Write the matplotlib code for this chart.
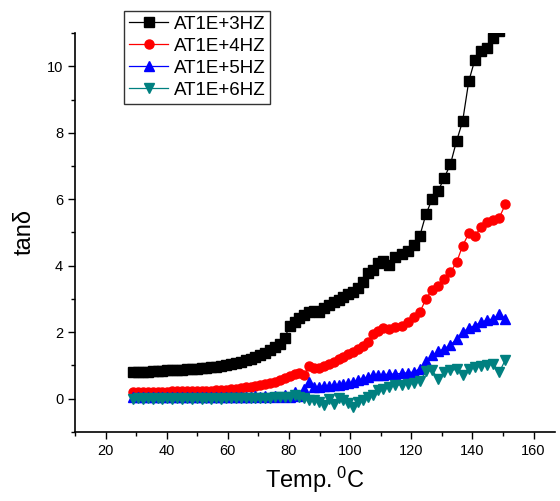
import numpy as np
import matplotlib
matplotlib.use("Agg")
import matplotlib.pyplot as plt
from matplotlib.ticker import MultipleLocator

plt.rcParams['font.family'] = ['Liberation Sans', 'DejaVu Sans']

# температура (общая сетка для всех частот)
temp = [29.0, 30.6, 32.2, 33.8, 35.4, 37.0, 38.6, 40.2, 41.8, 43.4,
        45.0, 46.6, 48.2, 49.8, 51.4, 53.0, 54.6, 56.2, 57.8, 59.4,
        61.0, 62.6, 64.2, 65.8, 67.4, 69.0, 70.6, 72.2, 73.8, 75.4,
        77.0, 78.6, 80.2, 81.8, 83.4, 85.0, 86.6, 88.2, 89.8, 91.4,
        93.0, 94.6, 96.2, 97.8, 99.4, 101.0, 102.6, 104.2, 105.8, 107.4,
        109.0, 110.8, 112.8, 114.8, 116.8, 118.8, 120.8, 122.8, 124.8, 126.8,
        128.8, 130.8, 132.8, 134.8, 136.8, 138.8, 140.8, 142.8, 144.8, 146.8,
        148.8, 150.8]

hz3 = [0.81, 0.79, 0.80, 0.81, 0.82, 0.83, 0.84, 0.85, 0.86, 0.86,
       0.87, 0.88, 0.89, 0.90, 0.91, 0.92, 0.94, 0.96, 0.98, 1.01,
       1.04, 1.07, 1.11, 1.15, 1.20, 1.25, 1.31, 1.38, 1.46, 1.55,
       1.65, 1.82, 2.20, 2.30, 2.42, 2.52, 2.62, 2.65, 2.60, 2.72,
       2.82, 2.90, 2.98, 3.07, 3.15, 3.22, 3.32, 3.50, 3.78, 3.88,
       4.08, 4.15, 4.02, 4.25, 4.35, 4.45, 4.62, 4.90, 5.55, 6.00,
       6.25, 6.65, 7.05, 7.75, 8.35, 9.55, 10.20, 10.45, 10.55, 10.85,
       11.05, 11.30]

hz4 = [0.20, 0.20, 0.20, 0.21, 0.21, 0.21, 0.21, 0.21, 0.22, 0.22,
       0.22, 0.22, 0.23, 0.23, 0.23, 0.24, 0.24, 0.25, 0.26, 0.27,
       0.28, 0.30, 0.32, 0.34, 0.36, 0.38, 0.40, 0.43, 0.46, 0.50,
       0.56, 0.62, 0.68, 0.73, 0.76, 0.72, 0.99, 0.91, 0.93, 0.98,
       1.04, 1.10, 1.18, 1.25, 1.33, 1.40, 1.48, 1.57, 1.70, 1.95,
       2.02, 2.12, 2.10, 2.15, 2.20, 2.30, 2.45, 2.60, 3.00, 3.28,
       3.40, 3.60, 3.80, 4.10, 4.60, 4.97, 4.90, 5.15, 5.30, 5.37,
       5.45, 5.85]

hz5 = [0.04, 0.06, 0.05, 0.06, 0.05, 0.06, 0.05, 0.06, 0.05, 0.06,
       0.05, 0.06, 0.05, 0.06, 0.05, 0.06, 0.05, 0.06, 0.05, 0.06,
       0.05, 0.06, 0.05, 0.06, 0.05, 0.07, 0.05, 0.07, 0.06, 0.08,
       0.06, 0.12, 0.05, 0.20, 0.08, 0.30, 0.50, 0.35, 0.36, 0.38,
       0.38, 0.40, 0.42, 0.44, 0.46, 0.50, 0.56, 0.60, 0.66, 0.70,
       0.72, 0.72, 0.74, 0.74, 0.76, 0.78, 0.80, 0.90, 1.12, 1.30,
       1.42, 1.50, 1.62, 1.78, 2.00, 2.12, 2.20, 2.30, 2.36, 2.40,
       2.55, 2.40]

hz6 = [0.00, 0.01, 0.00, 0.01, 0.00, 0.01, 0.00, 0.01, 0.00, 0.01,
       0.00, 0.01, 0.00, 0.01, 0.00, 0.01, 0.00, 0.01, 0.00, 0.01,
       0.01, 0.02, 0.01, 0.02, 0.02, 0.03, 0.02, 0.03, 0.03, 0.04,
       0.04, 0.05, 0.06, 0.10, 0.05, 0.02, -0.03, -0.05, -0.10, -0.18,
       -0.02, -0.15, 0.02, -0.05, -0.12, -0.24, -0.10, -0.03, 0.05, 0.10,
       0.25, 0.30, 0.36, 0.40, 0.42, 0.45, 0.47, 0.52, 0.82, 0.85,
       0.60, 0.80, 0.85, 0.88, 0.72, 0.90, 0.95, 0.98, 1.00, 1.05,
       0.80, 1.17]

series = [
    (hz3, 'AT1E+3HZ', 'black', 's'),
    (hz4, 'AT1E+4HZ', 'red', 'o'),
    (hz5, 'AT1E+5HZ', 'blue', '^'),
    (hz6, 'AT1E+6HZ', '#008080', 'v'),
]

fig = plt.figure(figsize=(5.6, 5.01), dpi=100)
ax = fig.add_axes([0.134, 0.138, 0.857, 0.796])

for vals, lab, col, mk in series:
    ax.plot(temp, vals, color=col, marker=mk, markersize=6.5, linewidth=0.9,
            label=lab)

ax.set_xlim(10, 167)
ax.set_ylim(-1, 11)
ax.xaxis.set_major_locator(MultipleLocator(20))
ax.xaxis.set_minor_locator(MultipleLocator(10))
ax.yaxis.set_major_locator(MultipleLocator(2))
ax.yaxis.set_minor_locator(MultipleLocator(1))
ax.tick_params(which='major', direction='out', length=5, width=1, labelsize=10.5)
ax.tick_params(which='minor', direction='out', length=3, width=1)
for s in ['top', 'right']:
    ax.spines[s].set_visible(False)
for s in ['left', 'bottom']:
    ax.spines[s].set_linewidth(1.2)

ax.set_xlabel(r'$\mathregular{Temp.^0C}$', fontsize=17, labelpad=5)
ax.set_ylabel('tanδ', fontsize=17, labelpad=8)

leg = fig.legend(loc='upper left', bbox_to_anchor=(0.222, 0.978), fontsize=13.5,
                 frameon=True, fancybox=False, edgecolor='black',
                 handlelength=2.1, borderpad=0.25, labelspacing=0.26,
                 handletextpad=0.3, borderaxespad=0)
leg.get_frame().set_linewidth(1.0)

fig.savefig('out.png', dpi=100)
